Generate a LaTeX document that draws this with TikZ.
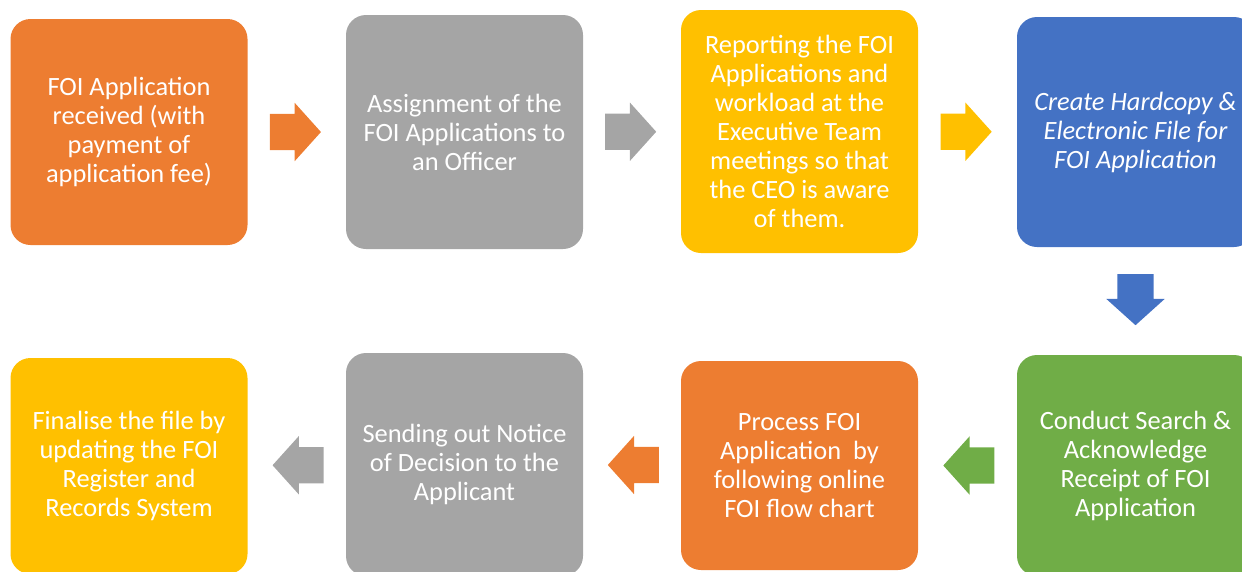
\documentclass[tikz,border=0pt]{standalone}
\usepackage{fontspec}
\setmainfont{Carlito}
\usetikzlibrary{shapes.arrows, positioning, calc}

\definecolor{foiorange}{HTML}{ED7D31}
\definecolor{foigray}{HTML}{A5A5A5}
\definecolor{foiyellow}{HTML}{FFC000}
\definecolor{foiblue}{HTML}{4472C4}
\definecolor{foigreen}{HTML}{70AD47}

\tikzset{
  stepbox/.style={draw=none, rounded corners=20pt, text=white, align=center,
    inner sep=0pt, minimum width=237pt, font=\fontsize{26.4}{29}\selectfont},
  blockarrow/.style={single arrow, draw=none, inner xsep=0pt, inner ysep=18pt,
    minimum height=51pt, single arrow head extend=11pt, single arrow tip angle=96,
    xshift=-9.5pt},
}

\begin{document}
\begin{tikzpicture}[x=1pt, y=-1pt]

\useasboundingbox (0,0) rectangle (1242,571);

% top row
\node[stepbox, fill=foiorange, minimum height=226pt] (received) at (129,132)
  {FOI Application\\received (with\\payment of\\application fee)};
\node[stepbox, fill=foigray, minimum height=234pt] (assign) at (464.5,132)
  {Assignment of the\\FOI Applications to\\an Officer};
\node[stepbox, fill=foiyellow, minimum height=243pt] (report) at (799.5,131.5)
  {Reporting the FOI\\Applications and\\workload at the\\Executive Team\\meetings so that\\the CEO is aware\\of them.};
\node[stepbox, fill=foiblue, minimum height=230pt] (create) at (1135.5,132)
  {\itshape Create Hardcopy \&\\\itshape Electronic File for\\\itshape FOI Application};

% bottom row
\node[stepbox, fill=foigreen, minimum height=221pt] (conduct) at (1135.5,465.5)
  {Conduct Search \&\\Acknowledge\\Receipt of FOI\\Application};
\node[stepbox, fill=foiorange, minimum height=209pt] (process) at (799.5,465.5)
  {Process FOI\\Application\ \ by\\following online\\FOI flow chart};
\node[stepbox, fill=foigray, minimum height=223pt] (notice) at (464.5,464.5)
  {Sending out Notice\\of Decision to the\\Applicant};
\node[stepbox, fill=foiyellow, minimum height=216pt] (finalise) at (129,466)
  {Finalise the file by\\updating the FOI\\Register and\\Records System};

% arrows
\node[blockarrow, fill=foiorange] (arr1) at ($(received.east)!0.5!(assign.west)$) {};
\node[blockarrow, fill=foigray] (arr2) at ($(assign.east)!0.5!(report.west)$) {};
\node[blockarrow, fill=foiyellow] (arr3) at ($(report.east)!0.5!(create.west)$) {};
\node[rotate=-90, blockarrow, fill=foiblue] (arr4) at ($(create.south)!0.5!(conduct.north)$) {};
\node[rotate=180, blockarrow, fill=foigreen] (arr5) at ($(conduct.west)!0.5!(process.east)$) {};
\node[rotate=180, blockarrow, fill=foiorange] (arr6) at ($(process.west)!0.5!(notice.east)$) {};
\node[rotate=180, blockarrow, fill=foigray] (arr7) at ($(notice.west)!0.5!(finalise.east)$) {};

\end{tikzpicture}
\end{document}
